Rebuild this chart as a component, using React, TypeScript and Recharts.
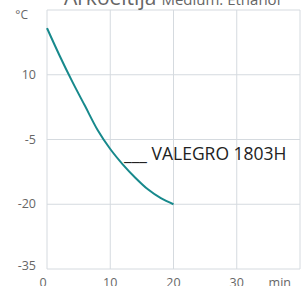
import { LineChart, Line, XAxis, YAxis, CartesianGrid } from "recharts";

const minutes = [0, 2, 4, 6, 8, 10, 12, 14, 16, 18, 20];
const temps = [20.8, 14.4, 8.4, 2.8, -2.8, -7.2, -10.8, -13.9, -16.6, -18.6, -20];
const xTicks = [0, 10, 20, 30, 40];
const yTicks = [-35, -20, -5, 10, 25];

const data = minutes.map((t, i) => ({ t, temp: temps[i] }));

const FONT = "'Open Sans', 'Noto Sans', sans-serif";
const GREY = "#666";

const YTick = ({ x, y, payload }: any) => {
  if (payload.value === 25) {
    return (
      <text x={x - 8} y={y + 9} textAnchor="end" fontSize={12} fill={GREY} fontFamily={FONT}>
        °C
      </text>
    );
  }
  return (
    <text x={x} y={payload.value === -35 ? y - 3 : y} dy={4} textAnchor="end" fontSize={12.5} fill={GREY} fontFamily={FONT}>
      {payload.value}
    </text>
  );
};

const XTick = ({ x, y, payload }: any) => {
  if (payload.value === 40) {
    return (
      <text x={x - 5} y={y} dy={10} textAnchor="end" fontSize={12.5} fill={GREY} fontFamily={FONT}>
        min
      </text>
    );
  }
  return (
    <text x={payload.value === 0 ? x - 4 : x} y={y} dy={10} textAnchor="middle" fontSize={12.5} fill={GREY} fontFamily={FONT}>
      {payload.value}
    </text>
  );
};

export default function App() {
  return (
    <div style={{ position: "absolute", left: 0, top: 0, background: "#fff" }}>
      <LineChart width={304} height={286} data={data} margin={{ top: 10, right: 4, bottom: 0, left: 0 }}>
        <CartesianGrid stroke="#d5dadf" strokeWidth={1} />
        <XAxis
          dataKey="t"
          type="number"
          domain={[0, 40]}
          ticks={xTicks}
          axisLine={false}
          tickLine={false}
          height={17}
          tick={<XTick />}
        />
        <YAxis
          type="number"
          domain={[-35, 25]}
          ticks={yTicks}
          axisLine={false}
          tickLine={false}
          width={47}
          tickMargin={5}
          tick={<YTick />}
        />
        <Line
          type="monotone"
          dataKey="temp"
          stroke="#17898c"
          strokeWidth={2}
          dot={false}
          isAnimationActive={false}
        />
        <text x={64} y={5} fontSize={21} fill={GREY} fontFamily={FONT}>
          Arkoeitija
          <tspan fontSize={15} dx={5}>Medium: Ethanol</tspan>
        </text>
        <text x={124} y={160} fontSize={17.5} fill="#222" fontFamily={FONT}>
          ___ VALEGRO 1803H
        </text>
      </LineChart>
    </div>
  );
}
